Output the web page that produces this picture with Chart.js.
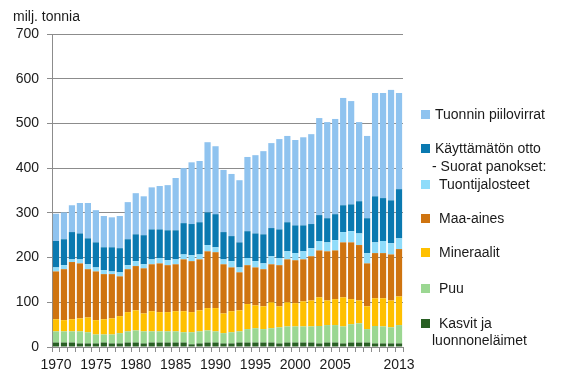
<!DOCTYPE html>
<html>
<head>
<meta charset="utf-8">
<script src="https://cdn.jsdelivr.net/npm/chart.js@4.4.1/dist/chart.umd.min.js"></script>
<style>
body { margin: 0; background: #fff; font-family: "Liberation Sans", Arial, sans-serif; color: #1a1a1a; }
#wrap { position: relative; width: 568px; height: 391px; }
#unit { position: absolute; left: 13px; top: 8px; font-size: 14px; }
.lg { position: absolute; font-size: 14px; white-space: nowrap; line-height: 16px; }
.box { position: absolute; left: 421px; width: 9px; height: 9px; }
</style>
</head>
<body>
<div id="wrap">
  <canvas id="myChart" width="568" height="391"></canvas>
  <div id="unit">milj. tonnia</div>
  <div id="legend"></div>
</div>
<script>
var years = ['1970','1971','1972','1973','1974','1975','1976','1977','1978','1979',
             '1980','1981','1982','1983','1984','1985','1986','1987','1988','1989',
             '1990','1991','1992','1993','1994','1995','1996','1997','1998','1999',
             '2000','2001','2002','2003','2004','2005','2006','2007','2008','2009',
             '2010','2011','2012','2013'];
var shownYears = ['1970','1975','1980','1985','1990','1995','2000','2005','2013'];

var kasvit = [10,10,10,8,8,8,10,8,8,10, 10,8,10,10,10,10,10,6,8,10, 10,8,8,10,10,10,10,10,8,10,
              10,10,10,8,10,10,8,10,10,10, 8,8,8,8];
var puu = [25,25,25,27,25,20,18,20,23,25, 27,27,25,25,25,25,23,27,27,27, 25,23,25,25,30,32,30,32,36,36,
           36,36,36,39,39,39,38,41,43,30, 39,38,36,41];
var mineraalit = [27,25,27,29,33,32,34,36,38,43, 45,40,45,43,43,45,47,45,47,50, 52,44,47,47,56,51,51,58,47,54,
                  52,56,58,64,55,58,65,56,51,51, 62,63,60,64];
var maaAines = [107,114,128,123,108,109,101,99,89,96, 99,101,105,109,105,105,116,114,114,127,
                125,110,98,85,87,85,83,85,92,96, 96,94,99,105,110,109,123,127,124,96, 101,101,103,106];
var tuontijalosteet = [9,9,6,9,11,9,9,6,9,9, 11,9,11,12,11,11,11,13,11,14, 11,11,14,11,16,14,13,18,16,18,
                       16,18,18,21,20,23,23,25,26,23, 24,27,25,24];
var kayttamaton = [59,58,61,58,58,56,51,54,54,58, 60,65,67,64,67,65,70,70,72,73, 74,61,56,56,60,62,65,63,64,65,
                   62,58,54,58,54,58,60,60,72,78, 103,96,96,110];
var piilovirrat = [61,60,60,68,79,72,70,67,72,83, 92,87,94,97,101,117,123,138,137,157, 152,139,139,139,166,175,186,190,202,193,
                   191,197,201,217,215,213,240,231,177,184, 231,235,247,215];

var yTicks = [0, 100, 200, 300, 400, 500, 600, 700];

var colors = {
    kasvit: '#285f23',
    puu: '#9bd792',
    mineraalit: '#ffc000',
    maaAines: '#cf7410',
    tuontijalosteet: '#8fdcfa',
    kayttamaton: '#0a79b0',
    piilovirrat: '#8fc3ef'
};

var gridColor = '#8c8c8c';
var font = { family: '"Liberation Sans", Arial, sans-serif', size: 14 };

var ctx = document.getElementById('myChart').getContext('2d');

var chart = new Chart(ctx, {
    type: 'bar',
    data: {
        labels: years,
        datasets: [
            { label: 'Kasvit ja luonnoneläimet', data: kasvit, backgroundColor: colors.kasvit },
            { label: 'Puu', data: puu, backgroundColor: colors.puu },
            { label: 'Mineraalit', data: mineraalit, backgroundColor: colors.mineraalit },
            { label: 'Maa-aines', data: maaAines, backgroundColor: colors.maaAines },
            { label: 'Tuontijalosteet', data: tuontijalosteet, backgroundColor: colors.tuontijalosteet },
            { label: 'Käyttämätön otto', data: kayttamaton, backgroundColor: colors.kayttamaton },
            { label: 'Tuonnin piilovirrat', data: piilovirrat, backgroundColor: colors.piilovirrat }
        ]
    },
    options: {
        responsive: false,
        animation: false,
        layout: { padding: { top: 34, right: 165, left: 0, bottom: 0 } },
        datasets: { bar: { barPercentage: 0.78, categoryPercentage: 1 } },
        plugins: {
            legend: { display: false },
            tooltip: { enabled: false }
        },
        scales: {
            x: {
                stacked: true,
                afterFit: function (scale) { scale.height = 44; },
                border: { color: gridColor },
                grid: { offset: true, drawOnChartArea: false, tickLength: 5, color: gridColor },
                ticks: {
                    autoSkip: false,
                    maxRotation: 0,
                    padding: 5,
                    color: '#1a1a1a',
                    font: font,
                    callback: function (v) {
                        var l = this.getLabelForValue(v);
                        return shownYears.indexOf(l) >= 0 ? l : '';
                    }
                }
            },
            y: {
                stacked: true,
                min: yTicks[0],
                max: yTicks[yTicks.length - 1],
                afterFit: function (scale) { scale.width = 52; },
                afterBuildTicks: function (scale) {
                    scale.ticks = yTicks.map(function (v) { return { value: v }; });
                },
                border: { color: gridColor },
                grid: { color: gridColor, tickLength: 5 },
                ticks: { padding: 8, color: '#1a1a1a', font: font }
            }
        }
    }
});

// legend, top entry first as in the original
var legend = document.getElementById('legend');
function addText(text, left, center) {
    var d = document.createElement('div');
    d.className = 'lg';
    d.style.left = left + 'px';
    d.style.top = (center - 8) + 'px';
    d.textContent = text;
    legend.appendChild(d);
}
function addBox(color, center) {
    var b = document.createElement('div');
    b.className = 'box';
    b.style.background = color;
    b.style.top = (center - 4) + 'px';
    legend.appendChild(b);
}
var ds = chart.data.datasets;
addBox(ds[6].backgroundColor, 114); addText(ds[6].label, 435, 114);
addBox(ds[5].backgroundColor, 148); addText(ds[5].label, 435, 148);
addText('- Suorat panokset:', 432, 166);
addBox(ds[4].backgroundColor, 184); addText(ds[4].label, 439, 184);
addBox(ds[3].backgroundColor, 218); addText(ds[3].label, 439, 218);
addBox(ds[2].backgroundColor, 252); addText(ds[2].label, 439, 252);
addBox(ds[1].backgroundColor, 288); addText(ds[1].label, 439, 288);
addBox(ds[0].backgroundColor, 323); addText('Kasvit ja', 439, 323);
addText('luonnoneläimet', 432, 340);
</script>
</body>
</html>
